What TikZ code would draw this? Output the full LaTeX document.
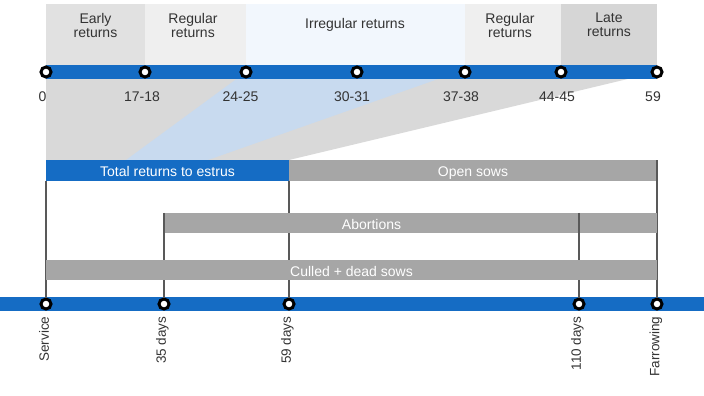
\documentclass[tikz,border=0pt]{standalone}
\usepackage{fontspec}
\setmainfont{Liberation Sans}
\definecolor{axisblue}{RGB}{21,108,196}
\definecolor{bargray}{RGB}{166,166,166}
\definecolor{linegray}{RGB}{89,89,89}
\definecolor{fungray}{RGB}{217,217,217}
\definecolor{funblue}{RGB}{200,218,239}
\definecolor{bandearly}{RGB}{225,225,225}
\definecolor{bandreg}{RGB}{239,239,239}
\definecolor{bandirr}{RGB}{242,247,253}
\definecolor{bandlate}{RGB}{214,214,214}
\colorlet{txtgray}{black!80}
\usetikzlibrary{positioning}

\begin{document}
\begin{tikzpicture}[x=1pt, y=-1pt,
  dot/.style={circle, draw=black, line width=3pt, fill=white,
    inner sep=0pt, minimum size=10pt},
  bandtxt/.style={align=center, text=txtgray, inner sep=0pt,
    font=\fontsize{14}{14}\selectfont},
  numlbl/.style={text=txtgray, inner sep=0pt, font=\fontsize{14}{16}\selectfont},
  daylbl/.style={rotate=90, anchor=east, text=txtgray, inner sep=0pt,
    font=\fontsize{13.5}{16}\selectfont},
  bar/.style={fill=bargray, text=white, inner sep=0pt, outer sep=0pt,
    minimum height=20.5pt, text height=12.5pt, text depth=0pt,
    font=\fontsize{14}{16}\selectfont},
  vline/.style={draw=linegray, line width=2pt},
]
\useasboundingbox (0,0) rectangle (704,396);

% bands above the return timeline
\fill[bandearly] (46,4) rectangle (145,72);
\fill[bandreg] (145,4) rectangle (246,72);
\fill[bandirr] (246,4) rectangle (465,72);
\fill[bandreg] (465,4) rectangle (561,72);
\fill[bandlate] (561,4) rectangle (657,72);
\node[bandtxt] (early) at (95.5,25) {Early\\returns};
\node[bandtxt] (reg1) at (193,25) {Regular\\returns};
\node[bandtxt] (irr) at (355,25) {Irregular returns};
\node[bandtxt] (reg2) at (510,25) {Regular\\returns};
\node[bandtxt] (late) at (609,25) {Late\\returns};

% funnel
\fill[fungray] (46,72) -- (657,72) -- (289,160) -- (46,160) -- cycle;
\fill[funblue] (246,72) -- (458,72) -- (208,160) -- (126,160) -- cycle;

% timelines
\fill[axisblue] (46,65) rectangle (657,79);
\fill[axisblue] (0,297) rectangle (704,311);

\node[dot] (p0) at (46,72) {};
\node[dot] (p17) at (145,72) {};
\node[dot] (p24) at (246,72) {};
\node[dot] (p30) at (357,72) {};
\node[dot] (p37) at (465,72) {};
\node[dot] (p44) at (561,72) {};
\node[dot] (p59) at (657,72) {};

\node[numlbl] (l0) at (42.5,96.5) {0};
\node[numlbl] (l17) at (142,96.5) {17-18};
\node[numlbl] (l24) at (240.5,96.5) {24-25};
\node[numlbl] (l30) at (352,96.5) {30-31};
\node[numlbl] (l37) at (461,96.5) {37-38};
\node[numlbl] (l44) at (557,96.5) {44-45};
\node[numlbl] (l59) at (653,96.5) {59};

\node[dot] (serv) at (46,304) {};
\node[dot] (d35) at (164,304) {};
\node[dot] (d59) at (289,304) {};
\node[dot] (d110) at (579,304) {};
\node[dot] (farr) at (657,304) {};

\node[daylbl] at (44,316.5) {Service};
\node[daylbl] at (162.5,316.5) {35 days};
\node[daylbl] at (287.5,316.5) {59 days};
\node[daylbl] at (577.5,316.5) {110 days};
\node[daylbl] at (656,316.5) {Farrowing};

% outcome bars
\node[bar, fill=axisblue, minimum width=243pt] (tot) at (167.5,170.5) {Total returns to estrus};
\node[bar, minimum width=368pt] (open) at (473,170.5) {Open sows};
\draw[vline] (tot.south west) -- (serv);
\draw[vline] (tot.south east) -- (d59);
\draw[vline] (open.north east) -- (farr);
\node[bar, minimum width=415pt] (abo) at (371.5,223) {Abortions};
\node[bar, minimum width=78pt] (abo2) at (618,223) {};
\draw[vline] (abo.north west) -- (d35);
\draw[vline] (abo.north east) -- (d110);
\node[bar, minimum width=611pt] (cull) at (351.5,270) {Culled + dead sows};
\end{tikzpicture}
\end{document}
